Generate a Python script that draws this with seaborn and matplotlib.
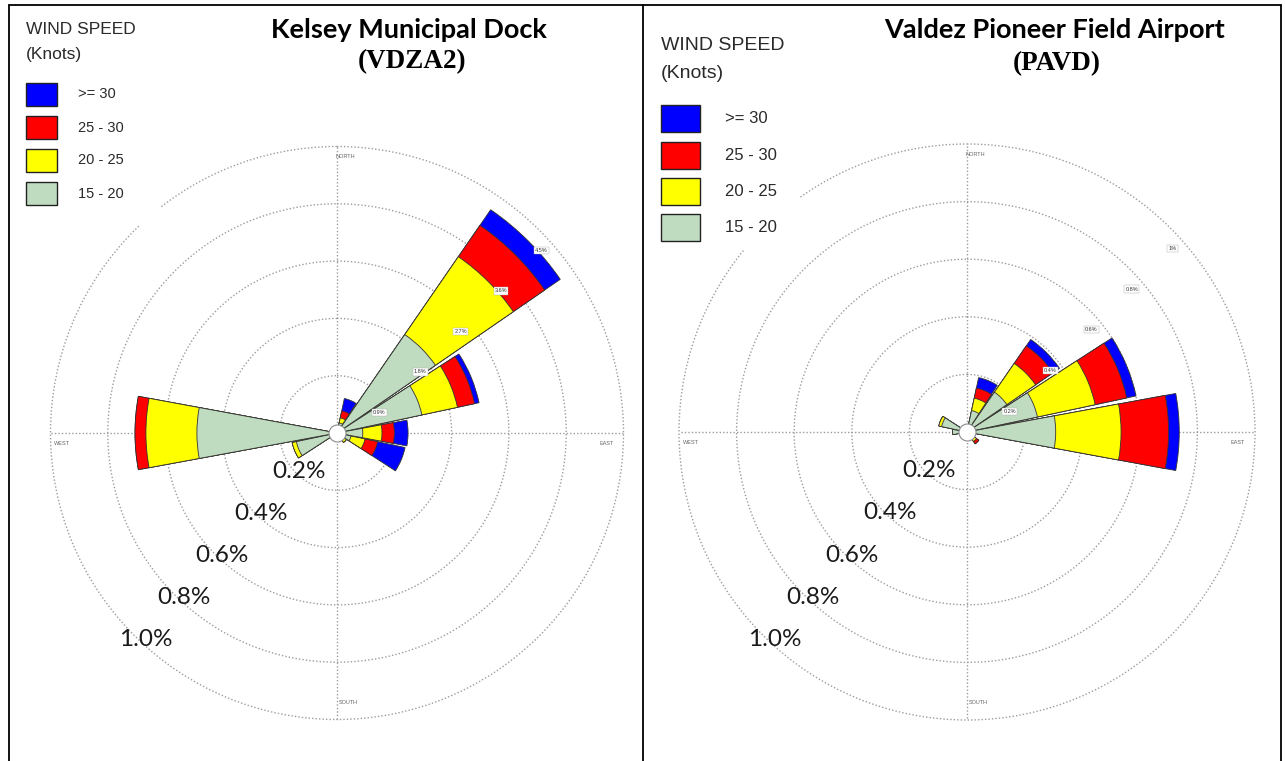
import numpy as np
import matplotlib.pyplot as plt
import seaborn as sns
from matplotlib.patches import Rectangle
from matplotlib.lines import Line2D

sns.set_theme(style='white')
plt.rcParams['font.family'] = ['Liberation Sans', 'DejaVu Sans']

# speed classes (knots), lowest first = innermost ring of each petal
speed_bins = ['15 - 20', '20 - 25', '25 - 30', '>= 30']
bin_colors = ['#c0dcc0', '#ffff00', '#ff0000', '#0000ff']

# Kelsey Municipal Dock (VDZA2): % of hours, per direction (deg from north)
kelsey_dirs = [22.5, 45, 67.5, 90, 112.5, 135, 247.5, 270]
kelsey_15_20 = [0.036, 0.417, 0.303, 0.090, 0.050, 0.020, 0.145, 0.489]
kelsey_20_25 = [0.018, 0.330, 0.127, 0.067, 0.050, 0.020, 0.015, 0.178]
kelsey_25_30 = [0.025, 0.133, 0.061, 0.043, 0.045, 0.000, 0.000, 0.038]
kelsey_30_up = [0.044, 0.066, 0.016, 0.048, 0.098, 0.000, 0.000, 0.000]

# Valdez Pioneer Field Airport (PAVD)
valdez_dirs = [22.5, 45, 67.5, 90, 135, 270, 292.5]
valdez_15_20 = [0.076, 0.168, 0.250, 0.308, 0.020, 0.050, 0.090]
valdez_20_25 = [0.044, 0.121, 0.205, 0.227, 0.020, 0.000, 0.010]
valdez_25_30 = [0.036, 0.074, 0.112, 0.165, 0.010, 0.000, 0.000]
valdez_30_up = [0.037, 0.027, 0.033, 0.037, 0.000, 0.000, 0.000]

ring_values = [0.2, 0.4, 0.6, 0.8, 1.0]
ring_labels = ['0.2%', '0.4%', '0.6%', '0.8%', '1.0%']
kelsey_ring_tags = ['0.9%', '1.8%', '2.7%', '3.6%', '4.5%']
valdez_ring_tags = ['0.2%', '0.4%', '0.6%', '0.8%', '1%']

W, H = 1285, 761
fig = plt.figure(figsize=(W / 100, H / 100), dpi=100)
fig.patch.set_facecolor('white')


def fx(x):
    return x / W


def fy(y):
    return 1 - y / H


grid_kw = dict(color='#9c9c9c', linestyle=(0, (1, 1.5)), linewidth=1.0)


def add_rose(cx, cy, r_px, dirs, cols, tags):
    rmax = 1.05
    half = r_px * rmax
    ax = fig.add_axes([fx(cx - half), fy(cy + half), 2 * half / W, 2 * half / H],
                      projection='polar')
    ax.set_theta_zero_location('N')
    ax.set_theta_direction(-1)
    theta = np.deg2rad(dirs)
    cum = np.cumsum(np.array(cols), axis=0)
    # draw cumulative totals from the outside in, so petals look stacked
    for i in reversed(range(len(speed_bins))):
        sns.barplot(x=theta, y=cum[i], native_scale=True, orient='x',
                    color=bin_colors[i], saturation=1, width=0.93, errorbar=None,
                    edgecolor='#333333', linewidth=0.6, ax=ax)
    ax.set_thetalim(0, 2 * np.pi)
    ax.set_ylim(0, rmax)
    ax.set_xlabel('')
    ax.set_ylabel('')
    ax.set_xticks([])
    ax.set_yticks(ring_values)
    ax.set_yticklabels([])
    ax.yaxis.grid(True, **grid_kw)
    ax.set_axisbelow(True)
    ax.spines['polar'].set_visible(False)
    ax.set_facecolor('none')

    for t in [0, 90, 180, 270]:
        ax.plot([np.deg2rad(t)] * 2, [0, ring_values[-1]], zorder=0.5, **grid_kw)

    ax.scatter([0], [0], s=150, facecolor='white', edgecolor='#8a8a8a',
               linewidth=0.8, zorder=5, clip_on=False)

    small = dict(fontsize=4, color='#666666', zorder=6)
    ax.annotate('NORTH', xy=(0, 0.965), xytext=(8, 0), textcoords='offset pixels',
                ha='center', va='center', **small)
    ax.annotate('SOUTH', xy=(np.pi, 0.94), xytext=(11, 0), textcoords='offset pixels',
                ha='center', va='center', **small)
    ax.annotate('EAST', xy=(np.pi / 2, 0.94), xytext=(0, -10), textcoords='offset pixels',
                ha='center', va='center', **small)
    ax.annotate('WEST', xy=(1.5 * np.pi, 0.96), xytext=(0, -10), textcoords='offset pixels',
                ha='center', va='center', **small)

    for r, tag in zip(ring_values, tags):
        ax.annotate(tag, xy=(np.pi / 4, r), xytext=(2, -20), textcoords='offset pixels',
                    ha='center', va='center', fontsize=4, color='#333333', zorder=6,
                    bbox=dict(boxstyle='square,pad=0.2', fc='white', ec='#aaaaaa', lw=0.3))

    for k, (r, lab) in enumerate(zip(ring_values, ring_labels)):
        ax.annotate(lab, xy=(np.deg2rad(225), r), xytext=(2.5 + 2.2 * k, 2.5 - 1.7 * k),
                    textcoords='offset pixels', ha='center', va='center',
                    fontsize=17.5, family='Lato', color='#1a1a1a', zorder=7,
                    annotation_clip=False)
    return ax


def add_legend(x0, t_y, k_y, box_tops, bw, bh, lab_x, t_size, l_size):
    fig.text(fx(x0), fy(t_y), 'WIND SPEED', ha='left', va='center',
             fontsize=t_size, color='#2a2a2a', zorder=4)
    fig.text(fx(x0), fy(k_y), '(Knots)', ha='left', va='center',
             fontsize=t_size, color='#2a2a2a', zorder=4)
    for top, lab, col in zip(box_tops, speed_bins[::-1], bin_colors[::-1]):
        fig.add_artist(Rectangle((fx(x0), fy(top + bh)), bw / W, bh / H,
                                 transform=fig.transFigure, facecolor=col,
                                 edgecolor='#222222', linewidth=1.0, zorder=4))
        fig.text(fx(lab_x), fy(top + bh / 2), lab, ha='left', va='center',
                 fontsize=l_size, color='#2a2a2a', zorder=4)


add_rose(337, 433, 286.5, kelsey_dirs,
         [kelsey_15_20, kelsey_20_25, kelsey_25_30, kelsey_30_up], kelsey_ring_tags)
add_rose(967, 432, 288, valdez_dirs,
         [valdez_15_20, valdez_20_25, valdez_25_30, valdez_30_up], valdez_ring_tags)

# white legend panels hide the ring arcs behind them
for x0, y0, x1, y1 in [(12, 8, 160, 225), (646, 8, 800, 250)]:
    fig.add_artist(Rectangle((fx(x0), fy(y1)), (x1 - x0) / W, (y1 - y0) / H,
                             transform=fig.transFigure, facecolor='white',
                             edgecolor='none', zorder=2))

add_legend(26, 30, 55, [83, 116, 149, 182], 31, 23, 78, 12.5, 10.5)
add_legend(661, 45, 73, [105, 142, 178, 214], 39, 27, 725, 14, 12)

title_kw = dict(ha='center', va='center', fontsize=19.5, fontweight='bold', color='black', zorder=4)
fig.text(fx(409), fy(30), 'Kelsey Municipal Dock', family='Lato', **title_kw)
fig.text(fx(412), fy(62), '(VDZA2)', family='Liberation Serif', **title_kw)
fig.text(fx(1055), fy(30), 'Valdez Pioneer Field Airport', family='Lato', **title_kw)
fig.text(fx(1057), fy(64), '(PAVD)', family='Liberation Serif', **title_kw)

# table borders
for xs, ys in [([9, 9], [5, 761]), ([643, 643], [5, 761]),
               ([1281, 1281], [5, 761]), ([9, 1281], [5, 5])]:
    fig.add_artist(Line2D([fx(v) for v in xs], [fy(v) for v in ys],
                          transform=fig.transFigure, color='black', linewidth=1.3, zorder=4))

fig.savefig('out.png', dpi=100, facecolor='white')
